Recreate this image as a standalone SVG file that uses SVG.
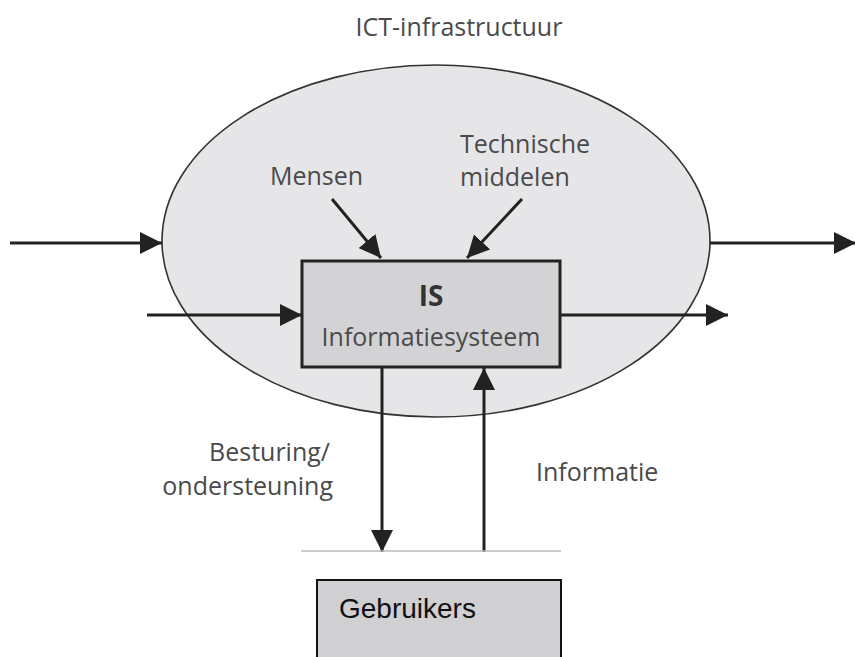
<svg xmlns="http://www.w3.org/2000/svg" width="855" height="657" viewBox="0 0 855 657">
<style>
.lbl{font-family:"Open Sans","Noto Sans","Liberation Sans",sans-serif;font-size:25px;fill:#4a4a4a}
.ln{stroke:#222;stroke-width:3;fill:none}
</style>
<defs>
<marker id="ah" markerUnits="userSpaceOnUse" markerWidth="24" markerHeight="22" refX="22" refY="11" orient="auto">
<path d="M0,0 L22,11 L0,22 Z" fill="#222"/>
</marker>
</defs>
<rect width="855" height="657" fill="#fff"/>
<g id="ict">
<ellipse cx="436" cy="241" rx="274" ry="176" fill="#e6e6e8" stroke="#333" stroke-width="1.6"/>
<text class="lbl" x="459" y="36" text-anchor="middle">ICT-infrastructuur</text>
</g>
<g id="mensen"><text class="lbl" x="270" y="185">Mensen</text></g>
<g id="technisch"><text class="lbl" x="460" y="153">Technische</text><text class="lbl" x="460" y="186">middelen</text></g>
<g id="is">
<rect x="302" y="261" width="258" height="106" fill="#d3d3d5" stroke="#222" stroke-width="3"/>
<text x="431" y="306" text-anchor="middle" style="font-family:'Open Sans','Noto Sans',sans-serif;font-size:28px;font-weight:bold;fill:#333">IS</text>
<text class="lbl" x="431" y="346" text-anchor="middle">Informatiesysteem</text>
</g>
<g id="labels">
<text class="lbl" x="330" y="461" text-anchor="end">Besturing/</text>
<text class="lbl" x="333" y="495" text-anchor="end">ondersteuning</text>
<text class="lbl" x="536" y="481">Informatie</text>
</g>
<g id="gebruikers">
<rect x="317" y="580" width="244" height="90" fill="#d0cfd1" stroke="#111" stroke-width="2"/>
<text x="339" y="618" style="font-family:'Liberation Sans',Arial,sans-serif;font-size:28px;fill:#111">Gebruikers</text>
</g>
<g id="connectors">
<line x1="10" y1="243" x2="162" y2="243" class="ln" marker-end="url(#ah)"/>
<line x1="710" y1="243" x2="856" y2="243" class="ln" marker-end="url(#ah)"/>
<line x1="147" y1="315" x2="302" y2="315" class="ln" marker-end="url(#ah)"/>
<line x1="560" y1="315" x2="728" y2="315" class="ln" marker-end="url(#ah)"/>
<line x1="332" y1="199" x2="381" y2="258" class="ln" marker-end="url(#ah)"/>
<line x1="522" y1="199" x2="467" y2="258" class="ln" marker-end="url(#ah)"/>
<line x1="382" y1="367" x2="382" y2="552" class="ln" marker-end="url(#ah)"/>
<line x1="484" y1="552" x2="484" y2="368" class="ln" marker-end="url(#ah)"/>
<line x1="301" y1="551" x2="561" y2="551" stroke="#bbb" stroke-width="1.5"/>
</g>
</svg>
